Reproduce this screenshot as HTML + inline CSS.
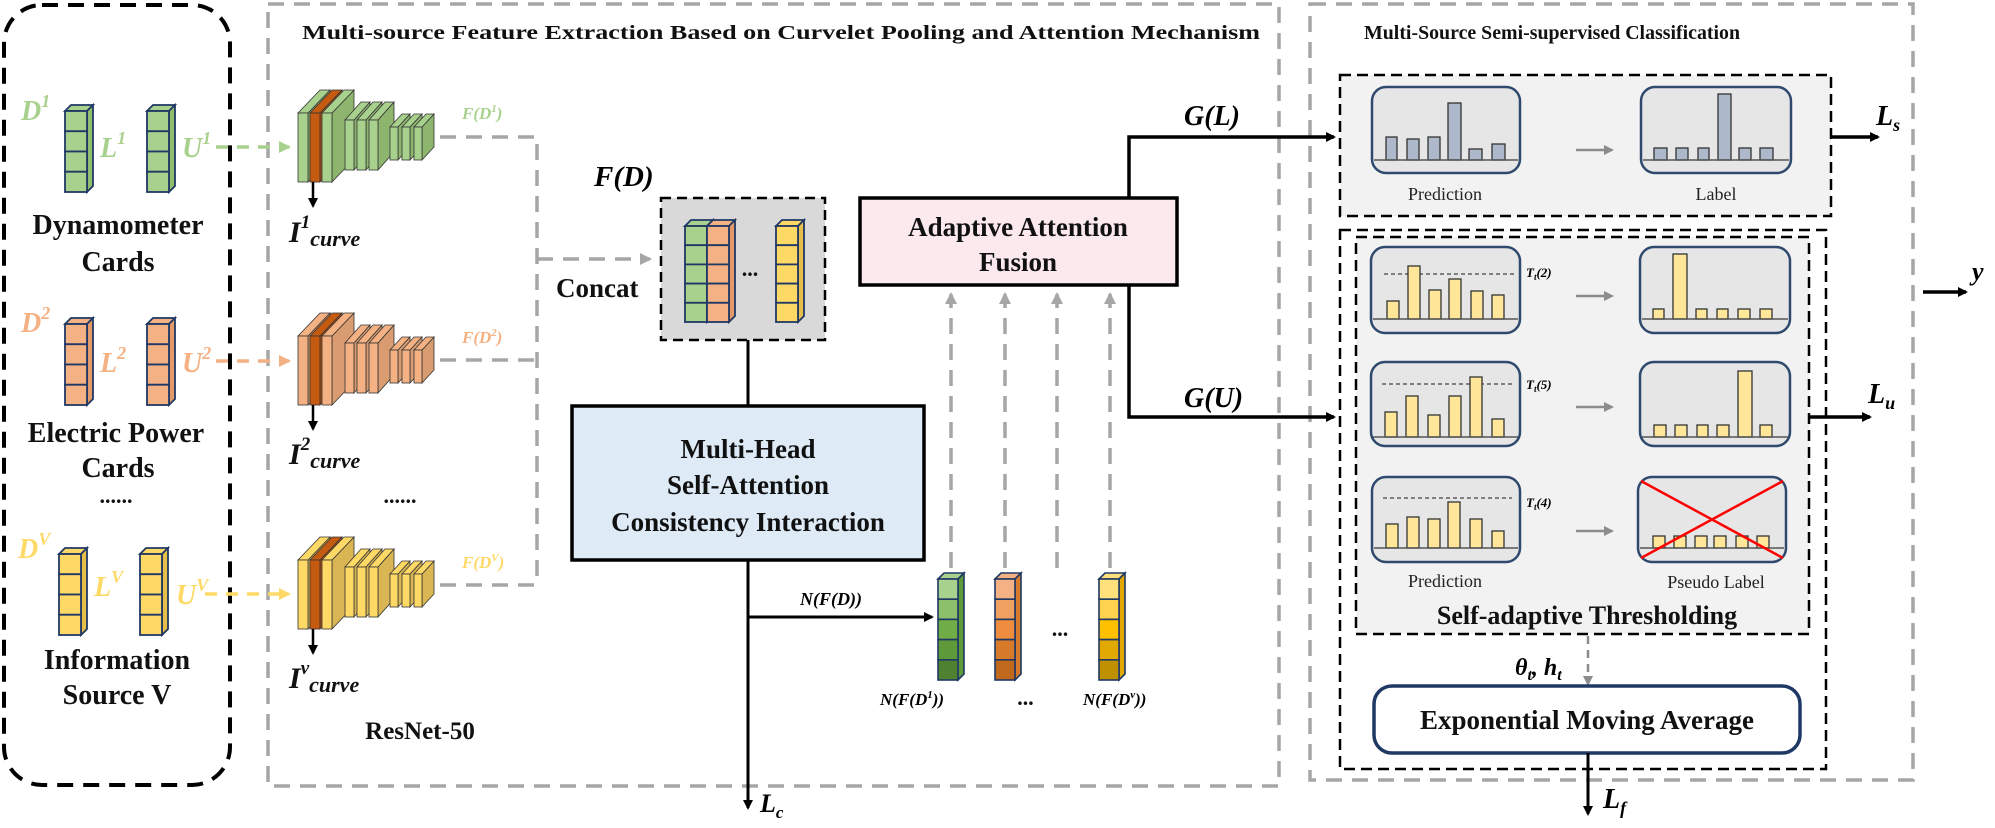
<!DOCTYPE html>
<html><head><meta charset="utf-8"><style>
html,body{margin:0;padding:0;background:#fff;font-family:"Liberation Serif","DejaVu Serif","Noto Serif CJK SC",serif;}
svg{display:block;}
svg text{font-family:"Liberation Serif","DejaVu Serif","Noto Serif CJK SC",serif;}
.t{font-weight:bold;fill:#111;}
.m{font-weight:bold;font-style:italic;}
</style></head><body>
<svg width="1995" height="828" viewBox="0 0 1995 828" xmlns="http://www.w3.org/2000/svg" font-family="Liberation Serif, DejaVu Serif, Noto Serif CJK SC, serif">
<defs>
<marker id="ab" markerWidth="10" markerHeight="10" refX="8" refY="5" orient="auto" markerUnits="userSpaceOnUse"><path d="M0,0 L10,5 L0,10 z" fill="#000"/></marker>
<marker id="ag" markerWidth="12" markerHeight="12" refX="10" refY="6" orient="auto" markerUnits="userSpaceOnUse"><path d="M0,0 L12,6 L0,12 z" fill="#a6a6a6"/></marker>
<marker id="ag2" markerWidth="10" markerHeight="10" refX="8" refY="5" orient="auto" markerUnits="userSpaceOnUse"><path d="M0,0 L10,5 L0,10 z" fill="#8c8c8c"/></marker>
<marker id="agr" markerWidth="12" markerHeight="12" refX="10" refY="6" orient="auto" markerUnits="userSpaceOnUse"><path d="M0,0 L12,6 L0,12 z" fill="#a9d18e"/></marker>
<marker id="aor" markerWidth="12" markerHeight="12" refX="10" refY="6" orient="auto" markerUnits="userSpaceOnUse"><path d="M0,0 L12,6 L0,12 z" fill="#f4b183"/></marker>
<marker id="aye" markerWidth="12" markerHeight="12" refX="10" refY="6" orient="auto" markerUnits="userSpaceOnUse"><path d="M0,0 L12,6 L0,12 z" fill="#ffd966"/></marker>

<g id="rn" stroke="#333" stroke-width="0.8">
 <polygon points="308,113 330,90 330,159 308,182" style="fill:var(--s)"/><polygon points="298,113 320,90 330,90 308,113" style="fill:var(--f)"/><rect x="298" y="113" width="10" height="69" style="fill:var(--f)"/>
 <polygon points="320,113 342,90 342,159 320,182" style="fill:#b5500f"/><polygon points="310,113 332,90 342,90 320,113" style="fill:#c55a11"/><rect x="310" y="113" width="10" height="69" style="fill:#c55a11"/>
 <polygon points="332,113 354,90 354,159 332,182" style="fill:var(--s)"/><polygon points="322,113 344,90 354,90 332,113" style="fill:var(--f)"/><rect x="322" y="113" width="10" height="69" style="fill:var(--f)"/>
 <polygon points="354,120 370,102 370,152 354,170" style="fill:var(--s)"/><polygon points="345,120 361,102 370,102 354,120" style="fill:var(--f)"/><rect x="345" y="120" width="9" height="50" style="fill:var(--f)"/>
 <polygon points="366,120 382,102 382,152 366,170" style="fill:var(--s)"/><polygon points="357,120 373,102 382,102 366,120" style="fill:var(--f)"/><rect x="357" y="120" width="9" height="50" style="fill:var(--f)"/>
 <polygon points="378,120 394,102 394,152 378,170" style="fill:var(--s)"/><polygon points="369,120 385,102 394,102 378,120" style="fill:var(--f)"/><rect x="369" y="120" width="9" height="50" style="fill:var(--f)"/>
 <polygon points="398,127 410,114 410,147 398,160" style="fill:var(--s)"/><polygon points="390,127 402,114 410,114 398,127" style="fill:var(--f)"/><rect x="390" y="127" width="8" height="33" style="fill:var(--f)"/>
 <polygon points="410,127 422,114 422,147 410,160" style="fill:var(--s)"/><polygon points="402,127 414,114 422,114 410,127" style="fill:var(--f)"/><rect x="402" y="127" width="8" height="33" style="fill:var(--f)"/>
 <polygon points="422,127 434,114 434,147 422,160" style="fill:var(--s)"/><polygon points="414,127 426,114 434,114 422,127" style="fill:var(--f)"/><rect x="414" y="127" width="8" height="33" style="fill:var(--f)"/>
</g>

<g id="stk4" stroke="#203864" stroke-width="1.8">
 <polygon points="0,6 6,0 28,0 22,6" style="fill:var(--f)"/>
 <polygon points="22,6 28,0 28,81 22,87" style="fill:var(--s)"/>
 <rect x="0" y="6" width="22" height="20.25" style="fill:var(--f)"/>
 <rect x="0" y="26.25" width="22" height="20.25" style="fill:var(--f)"/>
 <rect x="0" y="46.5" width="22" height="20.25" style="fill:var(--f)"/>
 <rect x="0" y="66.75" width="22" height="20.25" style="fill:var(--f)"/>
</g>
<g id="stk5" stroke="#203864" stroke-width="1.8">
 <polygon points="0,6 6,0 28,0 22,6" style="fill:var(--f)"/>
 <polygon points="22,6 28,0 28,96 22,102" style="fill:var(--s)"/>
 <rect x="0" y="6" width="22" height="19.2" style="fill:var(--f)"/>
 <rect x="0" y="25.2" width="22" height="19.2" style="fill:var(--f)"/>
 <rect x="0" y="44.4" width="22" height="19.2" style="fill:var(--f)"/>
 <rect x="0" y="63.6" width="22" height="19.2" style="fill:var(--f)"/>
 <rect x="0" y="82.8" width="22" height="19.2" style="fill:var(--f)"/>
</g>
<g id="stkg" stroke="#203864" stroke-width="1.6">
 <polygon points="0,6 6,0 26,0 20,6" style="fill:var(--c1)"/>
 <polygon points="20,6 26,0 26,101 20,107" style="fill:var(--c4)"/>
 <rect x="0" y="6" width="20" height="20.2" style="fill:var(--c1)"/>
 <rect x="0" y="26.2" width="20" height="20.2" style="fill:var(--c2)"/>
 <rect x="0" y="46.4" width="20" height="20.2" style="fill:var(--c3)"/>
 <rect x="0" y="66.6" width="20" height="20.2" style="fill:var(--c4)"/>
 <rect x="0" y="86.8" width="20" height="20.2" style="fill:var(--c5)"/>
</g>
</defs>

<rect x="4" y="5" width="226" height="780" rx="38" fill="none" stroke="#000" stroke-width="4" stroke-dasharray="16,10"/>
<rect x="268" y="4" width="1011" height="782" fill="none" stroke="#a6a6a6" stroke-width="3.5" stroke-dasharray="16,10"/>
<rect x="1310" y="4" width="603" height="776" fill="none" stroke="#a6a6a6" stroke-width="3.5" stroke-dasharray="16,10"/>

<text x="302" y="39" class="t" font-size="20.5" textLength="958" lengthAdjust="spacingAndGlyphs">Multi-source Feature Extraction Based on Curvelet Pooling and Attention Mechanism</text>
<text x="1364" y="39" class="t" font-size="20.5" textLength="376" lengthAdjust="spacingAndGlyphs">Multi-Source Semi-supervised Classification</text>

<g class="m" font-size="28">
<text x="21" y="120" fill="#a9d18e">D<tspan font-size="18" dy="-13">1</tspan></text>
<text x="100" y="157" fill="#a9d18e">L<tspan font-size="18" dy="-13">1</tspan></text>
<text x="182" y="157" fill="#a9d18e">U<tspan font-size="18" dy="-13">1</tspan></text>
<text x="21" y="332" fill="#f4b183">D<tspan font-size="18" dy="-13">2</tspan></text>
<text x="100" y="372" fill="#f4b183">L<tspan font-size="18" dy="-13">2</tspan></text>
<text x="182" y="372" fill="#f4b183">U<tspan font-size="18" dy="-13">2</tspan></text>
<text x="18" y="558" fill="#ffd966">D<tspan font-size="18" dy="-13">V</tspan></text>
<text x="94" y="596" fill="#ffd966">L<tspan font-size="18" dy="-13">V</tspan></text>
<text x="176" y="604" fill="#ffd966">U<tspan font-size="18" dy="-13">V</tspan></text>
</g>
<use href="#stk4" x="65" y="105" style="--f:#a9d18e;--s:#8fbf6d"/>
<use href="#stk4" x="147" y="105" style="--f:#a9d18e;--s:#8fbf6d"/>
<use href="#stk4" x="65" y="318" style="--f:#f4b183;--s:#e39a68"/>
<use href="#stk4" x="147" y="318" style="--f:#f4b183;--s:#e39a68"/>
<use href="#stk4" x="59" y="548" style="--f:#ffd966;--s:#e6be4a"/>
<use href="#stk4" x="140" y="548" style="--f:#ffd966;--s:#e6be4a"/>

<g class="t" font-size="28" text-anchor="middle">
<text x="118" y="234">Dynamometer</text>
<text x="118" y="271">Cards</text>
<text x="116" y="442">Electric Power</text>
<text x="118" y="477">Cards</text>
<text x="117" y="669">Information</text>
<text x="117" y="704">Source V</text>
<text x="116" y="503" font-size="22">......</text>
</g>

<line x1="216" y1="147" x2="289" y2="147" stroke="#a9d18e" stroke-width="3.5" stroke-dasharray="12,9" marker-end="url(#agr)"/>
<line x1="216" y1="361" x2="289" y2="361" stroke="#f4b183" stroke-width="3.5" stroke-dasharray="12,9" marker-end="url(#aor)"/>
<line x1="205" y1="594" x2="289" y2="594" stroke="#ffd966" stroke-width="3.5" stroke-dasharray="12,9" marker-end="url(#aye)"/>

<use href="#rn" style="--f:#a9d18e;--s:#8db56d"/>
<use href="#rn" y="223" style="--f:#f4b183;--s:#d99c70"/>
<use href="#rn" y="447" style="--f:#ffd966;--s:#d9b553"/>

<g stroke="#000" stroke-width="2.5">
<line x1="313" y1="182" x2="313" y2="206" marker-end="url(#ab)"/>
<line x1="313" y1="405" x2="313" y2="429" marker-end="url(#ab)"/>
<line x1="313" y1="629" x2="313" y2="653" marker-end="url(#ab)"/>
</g>
<g class="m" font-size="30" fill="#111">
<text x="289" y="242">I<tspan font-size="19" dy="-14">1</tspan><tspan font-size="22" dy="18">curve</tspan></text>
<text x="289" y="464">I<tspan font-size="19" dy="-14">2</tspan><tspan font-size="22" dy="18">curve</tspan></text>
<text x="289" y="688">I<tspan font-size="19" dy="-14">v</tspan><tspan font-size="22" dy="18">curve</tspan></text>
</g>
<text x="400" y="503" class="t" font-size="22" text-anchor="middle">......</text>
<text x="420" y="739" class="t" font-size="25" text-anchor="middle">ResNet-50</text>

<g font-style="italic" font-weight="bold" font-size="17">
<text x="462" y="119" fill="#a9d18e">F(D<tspan font-size="11" dy="-7">1</tspan><tspan dy="7">)</tspan></text>
<text x="462" y="343" fill="#f4b183">F(D<tspan font-size="11" dy="-7">2</tspan><tspan dy="7">)</tspan></text>
<text x="462" y="568" fill="#ffd966">F(D<tspan font-size="11" dy="-7">V</tspan><tspan dy="7">)</tspan></text>
</g>
<g fill="none" stroke="#a6a6a6" stroke-width="3.5" stroke-dasharray="16,10">
<path d="M440,137 H537 V585"/>
<path d="M440,360 H537"/>
<path d="M440,585 H537"/>
<path d="M537,259 H650" marker-end="url(#ag)"/>
</g>
<text x="594" y="186" class="m" font-size="29">F(D)</text>
<text x="556" y="297" class="t" font-size="27">Concat</text>

<rect x="661" y="198" width="164" height="142" fill="#d9d9d9" stroke="#000" stroke-width="2.5" stroke-dasharray="10,6"/>
<use href="#stk5" x="685" y="220" style="--f:#a9d18e;--s:#8fbf6d"/>
<use href="#stk5" x="707" y="220" style="--f:#f4b183;--s:#e39a68"/>
<use href="#stk5" x="776" y="220" style="--f:#ffd966;--s:#e6be4a"/>
<text x="750" y="276" class="t" font-size="22" text-anchor="middle">...</text>

<line x1="748" y1="340" x2="748" y2="405" stroke="#000" stroke-width="3"/>
<rect x="572" y="406" width="352" height="154" fill="#deebf7" stroke="#000" stroke-width="3.5"/>
<g class="t" font-size="27" text-anchor="middle">
<text x="748" y="458">Multi-Head</text>
<text x="748" y="494">Self-Attention</text>
<text x="748" y="531">Consistency Interaction</text>
</g>
<line x1="748" y1="560" x2="748" y2="808" stroke="#000" stroke-width="3" marker-end="url(#ab)"/>
<text x="760" y="812" class="m" font-size="26">L<tspan font-size="17" dy="6">c</tspan></text>
<line x1="748" y1="617" x2="932" y2="617" stroke="#000" stroke-width="3" marker-end="url(#ab)"/>
<text x="800" y="605" class="m" font-size="18">N(F(D))</text>

<g stroke="#a6a6a6" stroke-width="3.5" stroke-dasharray="16,10" fill="none">
<line x1="951" y1="568" x2="951" y2="294" marker-end="url(#ag)"/>
<line x1="1005" y1="568" x2="1005" y2="294" marker-end="url(#ag)"/>
<line x1="1057" y1="568" x2="1057" y2="294" marker-end="url(#ag)"/>
<line x1="1110" y1="568" x2="1110" y2="294" marker-end="url(#ag)"/>
</g>
<use href="#stkg" x="938" y="573" style="--c1:#a9d18e;--c2:#8cc06a;--c3:#70ad47;--c4:#5e9a3a;--c5:#4e8230"/>
<use href="#stkg" x="995" y="573" style="--c1:#f4b183;--c2:#f0a060;--c3:#ed8d3d;--c4:#d77a2a;--c5:#c0681c"/>
<use href="#stkg" x="1099" y="573" style="--c1:#ffe07a;--c2:#ffd34d;--c3:#ffc000;--c4:#e0a800;--c5:#bf9000"/>
<text x="1060" y="636" class="t" font-size="22" text-anchor="middle">...</text>
<g class="m" font-size="17">
<text x="880" y="705">N(F(D<tspan font-size="11" dy="-7">1</tspan><tspan dy="7">))</tspan></text>
<text x="1018" y="705" class="t" font-size="22">...</text>
<text x="1083" y="705">N(F(D<tspan font-size="11" dy="-7">v</tspan><tspan dy="7">))</tspan></text>
</g>

<rect x="860" y="198" width="317" height="87" fill="#fbe9ee" stroke="#000" stroke-width="3.5"/>
<g class="t" font-size="27" text-anchor="middle">
<text x="1018" y="236">Adaptive Attention</text>
<text x="1018" y="271">Fusion</text>
</g>
<path d="M1129,198 V137 H1334" fill="none" stroke="#000" stroke-width="3.5" marker-end="url(#ab)"/>
<path d="M1129,285 V417 H1334" fill="none" stroke="#000" stroke-width="3.5" marker-end="url(#ab)"/>
<text x="1184" y="125" class="m" font-size="28">G(L)</text>
<text x="1184" y="407" class="m" font-size="28">G(U)</text>

<rect x="1340" y="75" width="491" height="141" fill="#f2f2f2" stroke="#000" stroke-width="2.5" stroke-dasharray="11,6"/>
<g fill="#e6e6e6" stroke="#2f4a6e" stroke-width="2.5">
<rect x="1372" y="87" width="148" height="86" rx="14"/>
<rect x="1641" y="87" width="150" height="86" rx="14"/>
</g>
<g stroke="#333" stroke-width="1.3" fill="#adb9ca">
<rect x="1386" y="137" width="11" height="23"/><rect x="1407" y="139" width="12" height="21"/><rect x="1428" y="137" width="12" height="23"/><rect x="1448" y="103" width="13" height="57"/><rect x="1469" y="149" width="13" height="11"/><rect x="1492" y="144" width="13" height="16"/>
<rect x="1654" y="148" width="13" height="12"/><rect x="1676" y="148" width="12" height="12"/><rect x="1698" y="148" width="11" height="12"/><rect x="1718" y="94" width="13" height="66"/><rect x="1739" y="148" width="12" height="12"/><rect x="1760" y="148" width="13" height="12"/>
</g>
<g stroke="#555" stroke-width="1.5"><line x1="1374" y1="160" x2="1518" y2="160"/><line x1="1643" y1="160" x2="1789" y2="160"/></g>
<g font-size="18" fill="#222" text-anchor="middle"><text x="1445" y="200">Prediction</text><text x="1716" y="200">Label</text></g>

<rect x="1340" y="230" width="486" height="539" fill="none" stroke="#000" stroke-width="2.5" stroke-dasharray="11,6"/>
<rect x="1356" y="237" width="453" height="397" fill="#f2f2f2" stroke="#000" stroke-width="2.5" stroke-dasharray="11,6"/>
<g fill="#e6e6e6" stroke="#2f4a6e" stroke-width="2.5">
<rect x="1371" y="247" width="149" height="86" rx="14"/>
<rect x="1640" y="247" width="150" height="86" rx="14"/>
<rect x="1371" y="362" width="149" height="84" rx="14"/>
<rect x="1640" y="362" width="150" height="84" rx="14"/>
<rect x="1372" y="477" width="148" height="85" rx="14"/>
<rect x="1638" y="477" width="148" height="85" rx="14"/>
</g>
<g stroke="#444" stroke-width="1.2" stroke-dasharray="4,3"><line x1="1384" y1="274" x2="1514" y2="274"/><line x1="1382" y1="384" x2="1512" y2="384"/><line x1="1383" y1="498" x2="1512" y2="498"/></g>
<g stroke="#333" stroke-width="1.3" fill="#ffe699">
<rect x="1387" y="301" width="12" height="18"/><rect x="1408" y="266" width="12" height="53"/><rect x="1429" y="290" width="12" height="29"/><rect x="1449" y="279" width="12" height="40"/><rect x="1471" y="291" width="12" height="28"/><rect x="1492" y="295" width="12" height="24"/>
<rect x="1385" y="412" width="12" height="25"/><rect x="1406" y="396" width="12" height="41"/><rect x="1428" y="415" width="12" height="22"/><rect x="1449" y="396" width="12" height="41"/><rect x="1470" y="377" width="12" height="60"/><rect x="1492" y="419" width="12" height="18"/>
<rect x="1386" y="524" width="12" height="24"/><rect x="1407" y="517" width="12" height="31"/><rect x="1428" y="519" width="12" height="29"/><rect x="1448" y="502" width="12" height="46"/><rect x="1470" y="519" width="12" height="29"/><rect x="1492" y="531" width="12" height="17"/>
<rect x="1653" y="309" width="11" height="10"/><rect x="1673" y="254" width="14" height="65"/><rect x="1696" y="309" width="11" height="10"/><rect x="1717" y="309" width="11" height="10"/><rect x="1738" y="309" width="12" height="10"/><rect x="1760" y="309" width="12" height="10"/>
<rect x="1654" y="425" width="12" height="12"/><rect x="1675" y="425" width="12" height="12"/><rect x="1697" y="425" width="11" height="12"/><rect x="1717" y="425" width="12" height="12"/><rect x="1738" y="371" width="14" height="66"/><rect x="1760" y="425" width="12" height="12"/>
<rect x="1653" y="536" width="12" height="12"/><rect x="1674" y="536" width="12" height="12"/><rect x="1695" y="536" width="12" height="12"/><rect x="1714" y="536" width="12" height="12"/><rect x="1736" y="536" width="12" height="12"/><rect x="1757" y="536" width="12" height="12"/>
</g>
<g stroke="#555" stroke-width="1.5">
<line x1="1373" y1="319" x2="1518" y2="319"/><line x1="1642" y1="319" x2="1788" y2="319"/>
<line x1="1373" y1="437" x2="1518" y2="437"/><line x1="1642" y1="437" x2="1788" y2="437"/>
<line x1="1374" y1="548" x2="1518" y2="548"/><line x1="1640" y1="548" x2="1784" y2="548"/>
</g>
<g stroke="#ff0000" stroke-width="2.5"><line x1="1641" y1="481" x2="1783" y2="558"/><line x1="1783" y1="481" x2="1641" y2="558"/></g>
<g class="m" font-size="13">
<text x="1526" y="277">T<tspan font-size="9" dy="3">t</tspan><tspan dy="-3">(2)</tspan></text>
<text x="1526" y="389">T<tspan font-size="9" dy="3">t</tspan><tspan dy="-3">(5)</tspan></text>
<text x="1526" y="507">T<tspan font-size="9" dy="3">t</tspan><tspan dy="-3">(4)</tspan></text>
</g>
<g stroke="#8c8c8c" stroke-width="2.5">
<line x1="1576" y1="150" x2="1612" y2="150" marker-end="url(#ag2)"/>
<line x1="1576" y1="296" x2="1612" y2="296" marker-end="url(#ag2)"/>
<line x1="1576" y1="407" x2="1612" y2="407" marker-end="url(#ag2)"/>
<line x1="1576" y1="531" x2="1612" y2="531" marker-end="url(#ag2)"/>
</g>
<g font-size="18" fill="#222" text-anchor="middle"><text x="1445" y="587">Prediction</text><text x="1716" y="588">Pseudo Label</text></g>
<text x="1587" y="624" class="t" font-size="26" text-anchor="middle">Self-adaptive Thresholding</text>

<line x1="1588" y1="636" x2="1588" y2="684" stroke="#8c8c8c" stroke-width="2.5" stroke-dasharray="8,6" marker-end="url(#ag2)"/>
<text x="1515" y="675" class="m" font-size="24">θ<tspan font-size="16" dy="5">t</tspan><tspan dy="-5">, h</tspan><tspan font-size="16" dy="5">t</tspan></text>
<rect x="1374" y="686" width="426" height="67" rx="18" fill="#fff" stroke="#1f3864" stroke-width="3.5"/>
<text x="1587" y="729" class="t" font-size="27" text-anchor="middle">Exponential Moving Average</text>
<line x1="1588" y1="753" x2="1588" y2="814" stroke="#000" stroke-width="3" marker-end="url(#ab)"/>
<text x="1603" y="808" class="m" font-size="28">L<tspan font-size="18" dy="6">f</tspan></text>

<line x1="1831" y1="137" x2="1878" y2="137" stroke="#000" stroke-width="3.5" marker-end="url(#ab)"/>
<text x="1876" y="125" class="m" font-size="28">L<tspan font-size="18" dy="6">s</tspan></text>
<line x1="1810" y1="417" x2="1870" y2="417" stroke="#000" stroke-width="3.5" marker-end="url(#ab)"/>
<text x="1868" y="403" class="m" font-size="28">L<tspan font-size="18" dy="6">u</tspan></text>
<line x1="1923" y1="292" x2="1966" y2="292" stroke="#000" stroke-width="3.5" marker-end="url(#ab)"/>
<text x="1972" y="280" class="m" font-size="26">y</text>
</svg>
</body></html>
